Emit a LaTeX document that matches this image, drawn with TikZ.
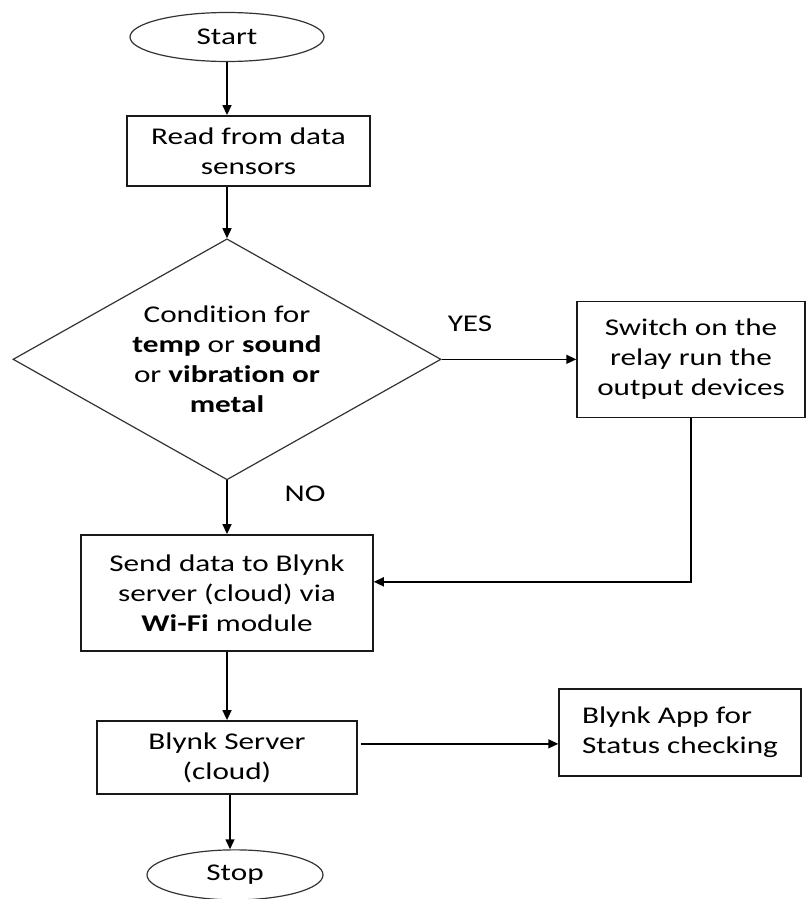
\documentclass[tikz,border=0pt]{standalone}
\usepackage{fontspec}
\setmainfont{Carlito}[FakeStretch=1.3, Ligatures=NoCommon]
\usetikzlibrary{shapes.geometric, arrows.meta}

\begin{document}
\begin{tikzpicture}[node distance=2cm, font=\fontsize{12pt}{15pt}\selectfont]
	\tikzstyle{startstop} = [ellipse, minimum width=97pt, minimum height=24.5pt, 
	inner sep=0pt, text centered, draw=black!80, line width=0.6pt]
	\tikzstyle{process} = [rectangle, inner sep=2pt, align=center, 
	draw=black!90, line width=0.75pt]
	\tikzstyle{decision} = [diamond, aspect=1.776, minimum width=214pt, 
	minimum height=120.5pt, inner sep=0pt, align=center, draw=black!80, 
	line width=0.6pt]
	\tikzstyle{arrow} = [line width=0.75pt,->,>={Triangle[length=5pt,width=4.5pt]}]
	\useasboundingbox (0,0) rectangle (403pt,-449.5pt);
	\node (start) [startstop] at (113.5pt,-18.5pt) {Start};
	\node (read) [process, below of=start, xshift=10.75pt, minimum width=121.5pt, 
	minimum height=35pt] {Read from data\\sensors};
	\node (cond) [decision, below of=read, xshift=-10.75pt, yshift=-47.35pt] 
	{Condition for\\\textbf{temp} or \textbf{sound}\\or \textbf{vibration or}\\\textbf{metal}};
	\node (switch) [process, right of=cond, xshift=175.1pt, minimum width=114pt, 
	minimum height=58pt] {Switch on the\\relay run the\\output devices};
	\node (send) [process, below of=cond, yshift=-59.85pt, minimum width=146pt, 
	minimum height=58pt] {Send data to Blynk\\server (cloud) via\\\textbf{Wi-Fi} module};
	\node (server) [process, below of=send, yshift=-25.35pt, minimum width=130pt, 
	minimum height=36.5pt] {Blynk Server\\(cloud)};
	\node (app) [process, right of=server, xshift=169.6pt, yshift=12.5pt, 
	minimum width=121pt, minimum height=43.5pt, align=left] 
	{Blynk App for\\Status checking};
	\node (stop) [startstop, below of=server, xshift=4pt, yshift=-1.85pt, 
	minimum width=88pt, minimum height=25pt] {Stop};
	\node (yes) [right of=cond, xshift=64.6pt, yshift=17.75pt] {YES};
	\node (no) [below of=cond, xshift=39pt, yshift=-10.35pt] {NO};
	\draw [arrow] (start) -- (start |- read.north);
	\draw [arrow] (start |- read.south) -- (cond.north);
	\draw [arrow] (cond.east) -- (cond.east -| switch.west);
	\draw [arrow] (cond.south) -- (send.north);
	\draw [arrow] (switch.south) |- ([yshift=5.5pt]send.east);
	\draw [arrow] (send.south) -- (send.south |- server.north);
	\draw [arrow] ([yshift=6.75pt,xshift=1.5pt]server.east) -- 
	([yshift=6.75pt]server.east -| app.west);
	\draw [arrow] ([xshift=1.5pt]server.south) -- ([xshift=1.5pt]server.south |- stop.north);
\end{tikzpicture}
\end{document}
